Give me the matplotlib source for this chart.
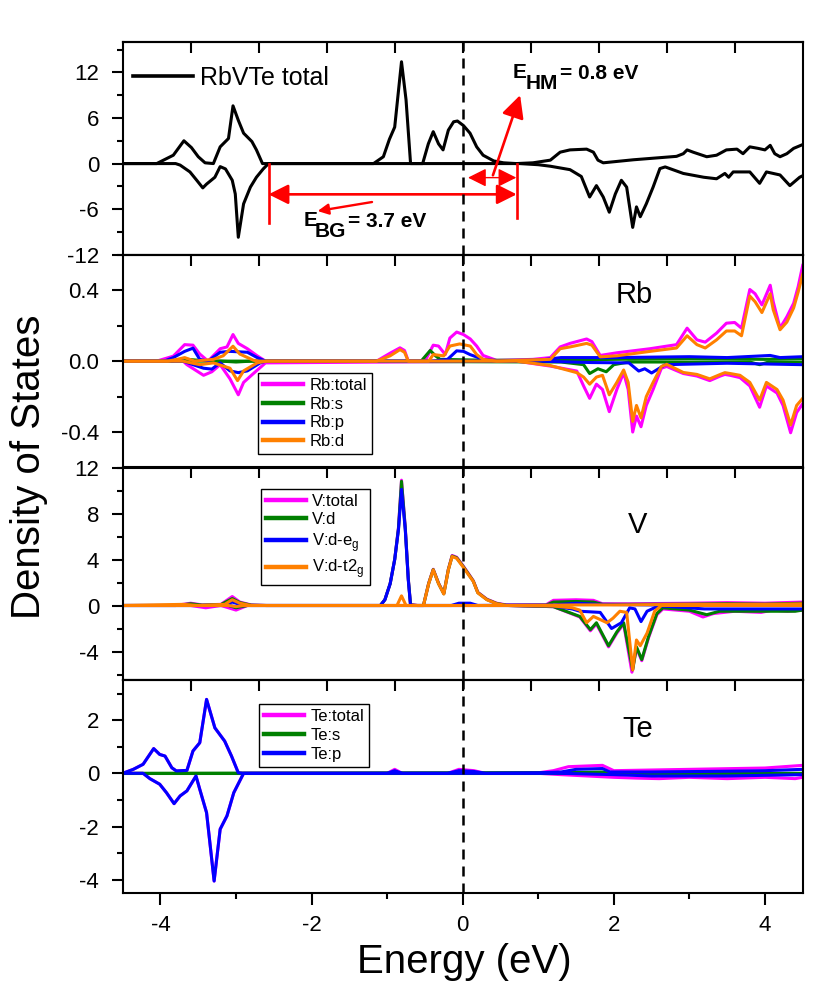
import matplotlib
matplotlib.use("Agg")
import matplotlib.pyplot as plt
from matplotlib.ticker import MultipleLocator, FixedLocator, FormatStrFormatter

plt.rcParams['font.family'] = ['Liberation Sans', 'DejaVu Sans']
plt.rcParams['mathtext.fontset'] = 'custom'
plt.rcParams['mathtext.rm'] = 'Liberation Sans'
plt.rcParams['mathtext.bf'] = 'Liberation Sans:bold'
plt.rcParams['axes.unicode_minus'] = False

MAG, GRN, BLU, ORG = '#FF00FF', '#008000', '#0000FF', '#FF8000'

# ---------------- data: total DOS (RbVTe) ----------------
tot_up_x = [-4.5, -4.05, -3.83, -3.69, -3.59, -3.50, -3.41, -3.30, -3.21, -3.10, -3.04, -2.97, -2.90, -2.79,
            -2.73, -2.65, -1.18, -1.05, -0.97, -0.90, -0.81, -0.75, -0.69, -0.53, -0.455, -0.39, -0.32, -0.26,
            -0.19, -0.12, -0.07, 0.01, 0.097, 0.185, 0.27, 0.41, 0.54, 0.71, 0.93, 1.16, 1.29, 1.42, 1.64, 1.73,
            1.79, 1.86, 2.26, 2.83, 2.92, 2.97, 3.05, 3.23, 3.36, 3.49, 3.63, 3.71, 3.80, 3.91, 4.00, 4.07,
            4.13, 4.20, 4.29, 4.38, 4.5]
tot_up_y = [0, 0, 1.1, 3.0, 2.1, 0.9, 0.1, 0, 2.2, 3.3, 7.6, 5.7, 4.0, 2.9,
            1.8, 0, 0, 0.9, 3.2, 4.8, 13.4, 8.4, 0, 0, 2.6, 4.2, 2.6, 1.8,
            4.4, 5.5, 5.6, 5.0, 4.0, 2.2, 1.1, 0.35, 0.1, 0.0, 0.1, 0.45, 1.5, 1.8, 1.9, 1.5,
            0.45, 0.1, 0.5, 0.95, 1.3, 1.8, 1.5, 0.9, 1.1, 1.8, 1.9, 1.3, 2.2, 2.0, 1.8, 2.4,
            1.3, 0.9, 1.3, 2.0, 2.5]
tot_dn_x = [-4.5, -3.80, -3.74, -3.61, -3.52, -3.44, -3.39, -3.28, -3.21, -3.14, -3.05, -3.01, -2.97, -2.90,
            -2.81, -2.73, -2.64, -2.57, 0.75, 1.00, 1.16, 1.42, 1.57, 1.68, 1.77, 1.86, 1.94, 2.02, 2.10, 2.17,
            2.25, 2.30, 2.35, 2.43, 2.52, 2.61, 2.68, 2.92, 3.19, 3.36, 3.47, 3.52, 3.58, 3.80, 3.93, 4.02,
            4.20, 4.33, 4.46, 4.5]
tot_dn_y = [0, 0, -0.2, -1.1, -2.2, -3.2, -2.7, -1.8, -0.4, -0.7, -2.2, -4.0, -9.7, -5.3,
            -3.1, -1.8, -0.7, 0, 0, -0.15, -0.35, -0.8, -1.7, -4.4, -2.9, -4.4, -6.4, -4.0, -2.2, -3.1,
            -8.4, -5.7, -7.0, -5.3, -3.1, -0.66, -0.44, -1.3, -1.8, -2.0, -1.3, -1.8, -1.1, -1.1, -2.6, -1.1,
            -1.5, -2.9, -1.8, -1.6]

# ---------------- data: Rb ----------------
rb_tot_up_x = [-4.5, -4.05, -3.83, -3.68, -3.57, -3.48, -3.37, -3.21, -3.12, -3.04, -2.97, -2.85, -2.72, -2.61,
               -1.14, -0.96, -0.83, -0.77, -0.72, -0.50, -0.39, -0.32, -0.23, -0.17, -0.08, 0.01, 0.10, 0.185,
               0.27, 0.45, 0.93, 1.16, 1.29, 1.42, 1.64, 1.71, 1.82, 2.04, 2.48, 2.83, 2.97, 3.10, 3.21, 3.36,
               3.49, 3.60, 3.69, 3.80, 3.87, 3.96, 4.07, 4.11, 4.20, 4.29, 4.38, 4.44, 4.5]
rb_tot_up_y = [0, 0, 0.028, 0.093, 0.09, 0.04, 0, 0.07, 0.08, 0.15, 0.10, 0.07, 0.03, 0,
               0, 0.045, 0.075, 0.06, 0, 0, 0.09, 0.085, 0.037, 0.13, 0.164, 0.15, 0.125, 0.085,
               0.032, 0.004, 0.01, 0.02, 0.08, 0.10, 0.125, 0.11, 0.032, 0.047, 0.07, 0.093, 0.186, 0.12, 0.107,
               0.158, 0.214, 0.218, 0.186, 0.404, 0.38, 0.317, 0.428, 0.335, 0.186, 0.25, 0.326, 0.42, 0.54]
rb_tot_dn_x = [-4.5, -3.70, -3.65, -3.54, -3.43, -3.32, -3.21, -3.08, -2.97, -2.90, -2.77, -2.61, 0.71, 1.16,
               1.51, 1.60, 1.68, 1.77, 1.85, 1.94, 2.04, 2.13, 2.19, 2.25, 2.30, 2.36, 2.43, 2.52, 2.63, 2.70,
               2.92, 3.10, 3.27, 3.41, 3.47, 3.54, 3.67, 3.80, 3.93, 4.02, 4.16, 4.24, 4.34, 4.42, 4.5]
rb_tot_dn_y = [0, 0, -0.02, -0.05, -0.08, -0.06, -0.02, -0.10, -0.19, -0.12, -0.07, -0.01, 0.0, -0.028,
               -0.056, -0.14, -0.21, -0.13, -0.16, -0.285, -0.16, -0.065, -0.16, -0.40, -0.31, -0.37, -0.25,
               -0.16, -0.04, -0.03, -0.07, -0.084, -0.11, -0.084, -0.075, -0.08, -0.093, -0.14, -0.26, -0.14,
               -0.18, -0.25, -0.404, -0.29, -0.24]
rb_s_up_x = [-4.5, -3.85, -3.70, -3.50, -3.30, -0.55, -0.43, -0.36, -0.30, 0.30, 1.20, 2.00, 3.00, 4.00, 4.5]
rb_s_up_y = [0, 0, 0.012, 0.005, 0, 0, 0.06, 0.03, 0.01, 0.005, 0.005, 0.01, 0.015, 0.01, 0.015]
rb_s_dn_x = [-4.5, -3.20, -3.00, -2.80, 1.30, 1.60, 1.68, 1.79, 1.90, 2.00, 2.20, 3.80, 3.93, 4.05, 4.5]
rb_s_dn_y = [0, 0, -0.005, 0, -0.005, -0.02, -0.07, -0.043, -0.06, -0.02, -0.005, -0.005, -0.02, -0.005, -0.005]
rb_p_up_x = [-4.5, -3.95, -3.83, -3.68, -3.57, -3.48, -3.37, -3.21, -3.08, -2.85, -2.72, -2.61, -0.40, -0.20,
             -0.08, 0.01, 0.097, 0.27, 0.45, 1.00, 1.30, 2.00, 3.00, 3.50, 4.07, 4.20, 4.5]
rb_p_up_y = [0, 0, 0.02, 0.055, 0.073, 0.01, 0, 0.05, 0.055, 0.05, 0.02, 0, 0, 0.01,
             0.058, 0.055, 0.037, 0.01, 0, 0.005, 0.02, 0.02, 0.025, 0.02, 0.032, 0.02, 0.025]
rb_p_dn_x = [-4.5, -3.70, -3.57, -3.43, -3.32, -3.21, -3.08, -2.97, -2.85, -2.68, -2.60, 1.00, 1.70, 2.20,
             2.33, 2.41, 2.50, 2.68, 3.50, 4.5]
rb_p_dn_y = [0, 0, -0.02, -0.04, -0.045, -0.01, -0.055, -0.065, -0.055, -0.01, 0, 0, -0.008, -0.01,
             -0.056, -0.043, -0.067, -0.02, -0.012, -0.02]
rb_d_up_x = [-4.5, -3.90, -3.78, -3.68, -3.55, -3.30, -3.17, -3.04, -2.95, -2.77, -2.70, -1.14, -0.96, -0.83,
             -0.77, -0.72, -0.45, -0.39, -0.25, -0.17, -0.04, 0.10, 0.185, 0.27, 0.45, 1.16, 1.29, 1.42, 1.64,
             1.71, 1.82, 2.04, 2.48, 2.83, 2.97, 3.10, 3.21, 3.36, 3.49, 3.60, 3.69, 3.80, 3.87, 3.96, 4.07,
             4.11, 4.20, 4.29, 4.38, 4.44, 4.5]
rb_d_up_y = [0, 0, 0.01, 0.02, 0, 0.01, 0.03, 0.084, 0.04, 0.005, 0, 0, 0.03, 0.065,
             0.05, 0, 0, 0.037, 0.03, 0.085, 0.097, 0.085, 0.037, 0.01, 0, 0.01, 0.07, 0.08, 0.10,
             0.09, 0.024, 0.03, 0.055, 0.074, 0.143, 0.093, 0.074, 0.12, 0.17, 0.17, 0.143, 0.367, 0.335,
             0.274, 0.38, 0.29, 0.177, 0.22, 0.30, 0.39, 0.49]
rb_d_dn_x = [-4.5, -3.70, -3.65, -3.48, -3.30, -3.08, -2.98, -2.90, -2.72, -2.60, 0.71, 1.16, 1.51, 1.60,
             1.68, 1.77, 1.85, 1.94, 2.04, 2.13, 2.19, 2.25, 2.30, 2.36, 2.43, 2.52, 2.63, 2.70, 2.92, 3.10,
             3.27, 3.41, 3.47, 3.54, 3.67, 3.80, 3.93, 4.02, 4.16, 4.24, 4.34, 4.42, 4.5]
rb_d_dn_y = [0, 0, -0.005, -0.02, -0.01, -0.04, -0.11, -0.055, -0.01, 0, 0, -0.025, -0.065, -0.09,
             -0.13, -0.09, -0.08, -0.19, -0.12, -0.05, -0.12, -0.34, -0.25, -0.32, -0.20, -0.12, -0.03,
             -0.018, -0.064, -0.075, -0.10, -0.075, -0.065, -0.07, -0.08, -0.12, -0.22, -0.12, -0.16, -0.22,
             -0.36, -0.25, -0.21]

# ---------------- data: V ----------------
v_tot_up_x = [-4.5, -3.80, -3.60, -3.45, -3.20, -3.05, -2.95, -2.80, -2.60, -1.09, -1.03, -0.96, -0.90, -0.85,
              -0.81, -0.76, -0.72, -0.69, -0.60, -0.52, -0.45, -0.39, -0.32, -0.25, -0.19, -0.14, -0.08, 0.00,
              0.074, 0.14, 0.20, 0.32, 0.45, 0.58, 1.10, 1.20, 1.50, 1.73, 1.85, 2.20, 3.00, 3.50, 4.00, 4.5]
v_tot_up_y = [0, 0, 0.2, 0.05, 0.1, 0.78, 0.3, 0.05, 0, 0, 0.5, 1.9, 4.0, 6.8,
              10.9, 6.8, 2.3, 0.1, 0, 0, 1.95, 3.15, 1.95, 1.05, 3.15, 4.35, 4.2, 3.5,
              2.8, 2.15, 1.15, 0.55, 0.2, 0.05, 0.05, 0.45, 0.5, 0.45, 0.15, 0.15, 0.2, 0.25, 0.2, 0.3]
v_tot_dn_x = [-4.5, -3.60, -3.40, -3.20, -3.00, -2.85, 0.60, 1.20, 1.55, 1.69, 1.77, 1.93, 2.04, 2.13, 2.24,
              2.30, 2.37, 2.46, 2.57, 2.65, 3.00, 3.18, 3.32, 3.60, 3.95, 4.10, 4.30, 4.5]
v_tot_dn_y = [0, 0, -0.2, 0, -0.4, 0, 0, -0.1, -1.0, -2.2, -1.6, -3.6, -2.4, -1.6, -5.8,
              -3.7, -4.8, -2.8, -0.8, -0.3, -0.5, -1.0, -0.7, -0.5, -0.6, -0.4, -0.5, -0.4]
v_d_up_x = [-4.5, -3.80, -3.60, -3.45, -3.20, -3.05, -2.95, -2.80, -2.60, -1.09, -1.03, -0.96, -0.90, -0.85,
            -0.81, -0.76, -0.72, -0.69, -0.60, -0.52, -0.45, -0.39, -0.32, -0.25, -0.19, -0.14, -0.08, 0.00,
            0.074, 0.14, 0.20, 0.32, 0.45, 0.58, 1.10, 1.20, 1.50, 1.73, 1.85, 2.20, 3.00, 3.50, 4.00, 4.5]
v_d_up_y = [0, 0, 0.15, 0.03, 0.08, 0.6, 0.25, 0.03, 0, 0, 0.5, 1.9, 4.0, 6.7,
            10.8, 6.7, 2.3, 0.05, 0, 0, 1.92, 3.12, 1.92, 1.02, 3.12, 4.3, 4.15, 3.45,
            2.75, 2.12, 1.12, 0.52, 0.17, 0.02, 0.02, 0.3, 0.35, 0.3, 0.1, 0.1, 0.12, 0.15, 0.12, 0.2]
v_d_dn_x = [-4.5, -3.10, -3.00, -2.85, 0.60, 1.20, 1.55, 1.69, 1.77, 1.93, 2.04, 2.13, 2.25, 2.30, 2.37,
            2.46, 2.57, 2.65, 3.00, 3.23, 3.40, 3.95, 4.40, 4.5]
v_d_dn_y = [0, 0, -0.2, 0, 0, -0.1, -0.95, -2.1, -1.5, -3.5, -2.3, -1.5, -5.6, -3.6, -4.7,
            -2.7, -0.7, -0.2, -0.4, -0.8, -0.5, -0.5, -0.5, -0.4]
v_eg_up_x = [-4.5, -3.20, -3.05, -2.90, -1.09, -1.03, -0.96, -0.90, -0.85, -0.81, -0.76, -0.72, -0.69, -0.15,
             -0.05, 0.10, 0.20, 1.20, 1.50, 1.80, 2.50, 4.5]
v_eg_up_y = [0, 0, 0.3, 0, 0, 0.5, 1.9, 4.0, 6.6, 10.1, 6.6, 2.2, 0, 0,
             0.2, 0.2, 0, 0.05, 0.2, 0.1, 0.05, 0.1]
v_eg_dn_x = [-4.5, -3.10, -3.00, -2.90, 0.60, 1.20, 1.45, 1.55, 1.82, 1.97, 2.10, 2.21, 2.28, 2.36, 2.44,
             2.57, 2.65, 3.20, 4.5]
v_eg_dn_y = [0, 0, -0.1, 0, 0, -0.05, -0.3, -0.5, -0.6, -2.0, -1.5, -0.2, -0.3, -1.4, -0.5,
             -0.1, -0.05, -0.3, -0.3]
v_t2g_up_x = [-4.5, -3.70, -3.50, -3.15, -3.05, -2.95, -2.80, -0.87, -0.81, -0.75, -0.52, -0.45, -0.39, -0.32,
              -0.25, -0.19, -0.14, -0.08, 0.00, 0.074, 0.14, 0.20, 0.32, 0.45, 0.58, 1.50, 2.00, 3.00, 4.00, 4.5]
v_t2g_up_y = [0, 0.1, 0, 0.1, 0.5, 0.2, 0, 0, 0.84, 0, 0, 1.9, 3.1, 1.9,
              1.0, 3.1, 4.26, 4.1, 3.4, 2.7, 2.1, 1.1, 0.5, 0.15, 0, 0.05, 0.05, 0.1, 0.1, 0.15]
v_t2g_dn_x = [-4.5, -3.10, -3.00, -2.90, 0.60, 1.20, 1.45, 1.55, 1.64, 1.73, 1.91, 1.99, 2.08, 2.17, 2.25,
              2.30, 2.35, 2.44, 2.54, 2.63, 4.5]
v_t2g_dn_y = [0, 0, -0.1, 0, 0, -0.05, -0.2, -0.4, -1.5, -0.95, -1.5, -1.1, -0.5, -0.6, -5.6,
              -3.0, -3.5, -2.4, -0.5, 0, 0]

# ---------------- data: Te ----------------
te_p_up_x = [-4.5, -4.36, -4.23, -4.09, -4.01, -3.94, -3.85, -3.79, -3.65, -3.57, -3.48, -3.39, -3.28, -3.15,
             -3.06, -2.97, -2.90, -1.00, -0.90, -0.80, -0.20, -0.05, 0.15, 0.30, 1.00, 1.30, 1.50, 1.85, 1.95,
             2.50, 3.50, 4.00, 4.5]
te_p_up_y = [0, 0.15, 0.34, 0.93, 0.71, 0.65, 0.21, 0.09, 0.11, 0.84, 1.15, 2.78, 1.71, 1.21,
             0.65, 0.02, 0, 0, 0.1, 0, 0, 0.1, 0.07, 0, 0.02, 0.05, 0.15, 0.18, 0.05,
             0.05, 0.08, 0.1, 0.15]
te_p_dn_x = [-4.5, -4.23, -4.14, -4.01, -3.92, -3.82, -3.74, -3.65, -3.53, -3.48, -3.39, -3.29, -3.21, -3.12,
             -3.03, -2.90, 1.30, 2.00, 2.50, 3.50, 4.5]
te_p_dn_y = [0, 0, -0.2, -0.41, -0.73, -1.14, -0.85, -0.66, -0.1, -0.6, -1.48, -4.05, -2.1, -1.6,
             -0.73, 0, 0, -0.05, -0.1, -0.1, -0.05]
te_tot_up_x = [-4.5, -4.36, -4.23, -4.09, -4.01, -3.94, -3.85, -3.79, -3.65, -3.57, -3.48, -3.39, -3.28, -3.15,
               -3.06, -2.97, -2.90, -1.00, -0.90, -0.80, -0.20, -0.05, 0.15, 0.30, 1.00, 1.20, 1.40, 1.85,
               2.00, 3.00, 4.00, 4.5]
te_tot_up_y = [0, 0.15, 0.34, 0.93, 0.71, 0.65, 0.21, 0.09, 0.11, 0.84, 1.15, 2.78, 1.71, 1.21,
               0.65, 0.02, 0, 0, 0.15, 0, 0, 0.15, 0.1, 0, 0.02, 0.1, 0.25, 0.3, 0.1, 0.15, 0.2, 0.3]
te_tot_dn_x = [-4.5, -4.23, -4.14, -4.01, -3.92, -3.82, -3.74, -3.65, -3.53, -3.48, -3.39, -3.29, -3.21, -3.12,
               -3.03, -2.90, 1.00, 1.30, 2.00, 2.30, 2.60, 3.00, 3.50, 4.00, 4.40, 4.5]
te_tot_dn_y = [0, 0, -0.2, -0.41, -0.73, -1.14, -0.85, -0.66, -0.1, -0.6, -1.48, -4.05, -2.1, -1.6,
               -0.73, 0, 0, -0.05, -0.15, -0.18, -0.2, -0.15, -0.2, -0.15, -0.2, -0.15]
te_s_up_x = [-4.5, 1.50, 1.85, 2.00, 4.5]
te_s_up_y = [0, 0.03, 0.05, 0.0, 0.0]
te_s_dn_x = [-4.5, 4.5]
te_s_dn_y = [0, 0]

# ---------------- axis/tick setup ----------------
xlim = (-4.5, 4.5)
top_ticks = [-3.6, -2.7, -1.8, -0.9, 0.0, 0.9, 1.8, 2.7, 3.6]
ylims = [(-12, 16), (-0.6, 0.6), (-6.5, 12), (-4.5, 3.5)]
ymajor = [6, 0.4, 4, 2]
yminor = [3, 0.2, 2, 1]

W, H = 830, 996
fig = plt.figure(figsize=(W / 100, H / 100), dpi=100)
left, right = 122.7 / W, 802.7 / W
ptop, pbot = 42.0, 893.0
ph = (pbot - ptop) / 4
axes = []
for i in range(4):
    y0 = 1 - (ptop + (i + 1) * ph) / H
    ax = fig.add_axes([left, y0, right - left, ph / H])
    ax.set_xlim(*xlim)
    ax.set_ylim(*ylims[i])
    ax.yaxis.set_major_locator(MultipleLocator(ymajor[i]))
    ax.yaxis.set_minor_locator(MultipleLocator(yminor[i]))
    for s in ax.spines.values():
        s.set_linewidth(1.5)
    ax.tick_params(axis='y', which='major', direction='out', length=8, width=1.5, labelsize=16, pad=9)
    ax.tick_params(axis='y', which='minor', direction='out', length=4.5, width=1.5)
    if i < 3:
        ax.tick_params(axis='x', which='both', bottom=False, labelbottom=False)
    else:
        ax.xaxis.set_major_locator(MultipleLocator(2))
        ax.xaxis.set_minor_locator(MultipleLocator(1))
        ax.tick_params(axis='x', which='major', direction='out', length=8.5, width=1.5, labelsize=16, pad=7)
        ax.tick_params(axis='x', which='minor', direction='out', length=4.5, width=1.5)
    sec = ax.secondary_xaxis('top')
    sec.xaxis.set_major_locator(FixedLocator(top_ticks))
    sec.tick_params(axis='x', direction='in', length=8, width=1.5, labeltop=False)
    sec.spines['top'].set_linewidth(1.5)
    ax.axvline(0, color='k', ls=(0, (4, 2.8)), lw=1.8, zorder=5)
    axes.append(ax)

axes[1].yaxis.set_major_formatter(FormatStrFormatter('%.1f'))

LW = 2.2
# panel 1
ax = axes[0]
ax.plot(tot_up_x, tot_up_y, color='k', lw=LW, label='RbVTe total')
ax.plot(tot_dn_x, tot_dn_y, color='k', lw=LW)
leg = ax.legend(loc='center left', bbox_to_anchor=(0.015, 0.83), frameon=False, fontsize=18,
                handlelength=2.4, handletextpad=0.3, borderpad=0, borderaxespad=0)
for l in leg.get_lines():
    l.set_linewidth(2.6)

red = '#FF0000'
ax.plot([-2.57, -2.57], [0, -7.8], color=red, lw=1.9)
ax.plot([0.715, 0.715], [0, -7.1], color=red, lw=1.9)
ax.annotate('', xy=(-2.57, -4.05), xytext=(0.715, -4.05),
            arrowprops=dict(arrowstyle='<|-|>', mutation_scale=30, color=red, lw=1.9, shrinkA=0, shrinkB=0))
ax.annotate('', xy=(0.07, -1.85), xytext=(0.71, -1.85),
            arrowprops=dict(arrowstyle='<|-|>', mutation_scale=28, color=red, lw=1.0, shrinkA=0, shrinkB=0))
ax.annotate('', xy=(0.76, 9.0), xytext=(0.40, -1.54),
            arrowprops=dict(arrowstyle='-|>', mutation_scale=34, color=red, lw=1.9, shrinkA=0, shrinkB=0))
ax.annotate('', xy=(-1.92, -6.25), xytext=(-1.20, -5.06),
            arrowprops=dict(arrowstyle='-|>', mutation_scale=16, color=red, lw=1.7, shrinkA=0, shrinkB=0))

# E_HM label pieces
ax.text(0.666, 12.0, 'E', fontsize=15, fontweight='bold', ha='left', va='center')
ax.text(0.838, 10.6, 'HM', fontsize=15, fontweight='bold', ha='left', va='center')
ax.text(1.288, 11.9, '= 0.8 eV', fontsize=15, fontweight='bold', ha='left', va='center')
# E_BG label pieces
ax.text(-2.11, -7.55, 'E', fontsize=15, fontweight='bold', ha='left', va='center')
ax.text(-1.955, -8.9, 'BG', fontsize=15, fontweight='bold', ha='left', va='center')
ax.text(-1.518, -7.65, '= 3.7 eV', fontsize=15, fontweight='bold', ha='left', va='center')

def pleg(ax, anchor):
    lg = ax.legend(loc='upper left', bbox_to_anchor=anchor, fontsize=12, frameon=True, fancybox=False,
                   edgecolor='k', framealpha=1, borderpad=0.3, labelspacing=0.22, handlelength=2.4,
                   handletextpad=0.4, borderaxespad=0)
    lg.get_frame().set_linewidth(1.0)
    for l in lg.get_lines():
        l.set_linewidth(3.2)
    return lg

# panel 2 Rb
ax = axes[1]
ax.plot(rb_tot_up_x, rb_tot_up_y, color=MAG, lw=LW, label='Rb:total')
ax.plot(rb_tot_dn_x, rb_tot_dn_y, color=MAG, lw=LW)
ax.plot(rb_s_up_x, rb_s_up_y, color=GRN, lw=LW, label='Rb:s')
ax.plot(rb_s_dn_x, rb_s_dn_y, color=GRN, lw=LW)
ax.plot(rb_p_up_x, rb_p_up_y, color=BLU, lw=LW, label='Rb:p')
ax.plot(rb_p_dn_x, rb_p_dn_y, color=BLU, lw=LW)
ax.plot(rb_d_up_x, rb_d_up_y, color=ORG, lw=LW, label='Rb:d')
ax.plot(rb_d_dn_x, rb_d_dn_y, color=ORG, lw=LW)
pleg(ax, (0.199, 0.444))
ax.text(0.753, 0.81, 'Rb', transform=ax.transAxes, fontsize=21, ha='center', va='center')

# panel 3 V
ax = axes[2]
ax.plot(v_tot_up_x, v_tot_up_y, color=MAG, lw=LW, label='V:total')
ax.plot(v_tot_dn_x, v_tot_dn_y, color=MAG, lw=LW)
ax.plot(v_d_up_x, v_d_up_y, color=GRN, lw=LW, label='V:d')
ax.plot(v_d_dn_x, v_d_dn_y, color=GRN, lw=LW)
ax.plot(v_eg_up_x, v_eg_up_y, color=BLU, lw=LW, label=r'V:d-e$_\mathregular{g}$')
ax.plot(v_eg_dn_x, v_eg_dn_y, color=BLU, lw=LW)
ax.plot(v_t2g_up_x, v_t2g_up_y, color=ORG, lw=LW, label=r'V:d-t2$_\mathregular{g}$')
ax.plot(v_t2g_dn_x, v_t2g_dn_y, color=ORG, lw=LW)
pleg(ax, (0.203, 0.901))
ax.text(0.757, 0.73, 'V', transform=ax.transAxes, fontsize=21, ha='center', va='center')

# panel 4 Te
ax = axes[3]
ax.plot(te_tot_up_x, te_tot_up_y, color=MAG, lw=LW, label='Te:total')
ax.plot(te_tot_dn_x, te_tot_dn_y, color=MAG, lw=LW)
ax.plot(te_s_up_x, te_s_up_y, color=GRN, lw=LW, label='Te:s')
ax.plot(te_s_dn_x, te_s_dn_y, color=GRN, lw=LW)
ax.plot(te_p_up_x, te_p_up_y, color=BLU, lw=LW, label='Te:p')
ax.plot(te_p_dn_x, te_p_dn_y, color=BLU, lw=LW)
pleg(ax, (0.200, 0.887))
ax.text(0.757, 0.77, 'Te', transform=ax.transAxes, fontsize=21, ha='center', va='center')

fig.text(464 / W, 1 - 962 / H, 'Energy (eV)', fontsize=29, ha='center', va='center')
fig.text(29 / W, 1 - 467 / H, 'Density of States', fontsize=29, rotation=90, ha='center', va='center')

fig.savefig('out.png', dpi=100)
